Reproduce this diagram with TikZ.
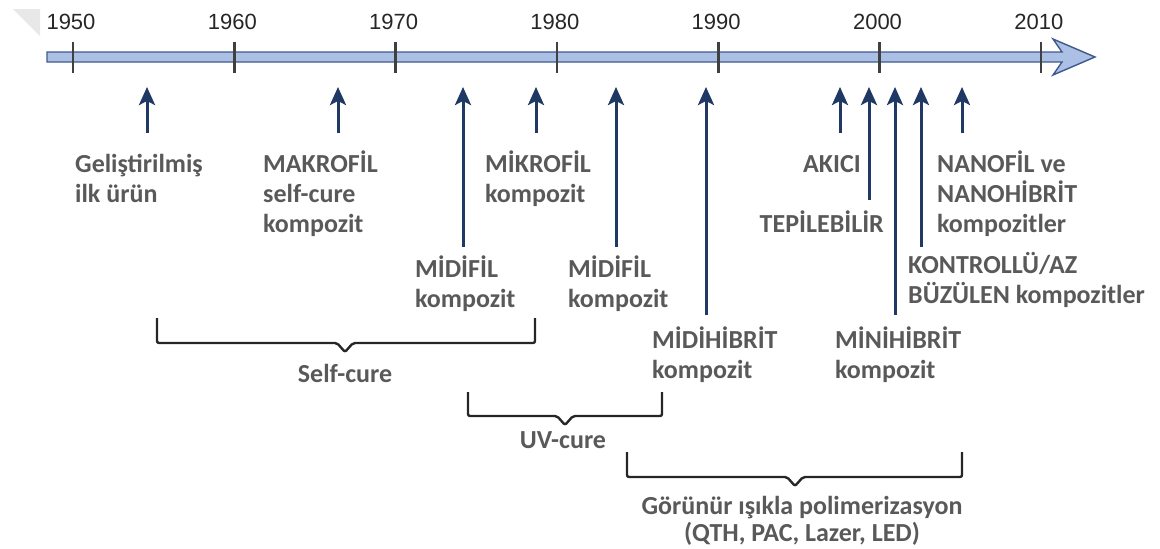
\documentclass[tikz,border=0pt]{standalone}
\usepackage{fontspec}
\setmainfont{Carlito}
\newfontfamily\yearfont{Liberation Sans}
\usetikzlibrary{arrows.meta}

\definecolor{navy}{RGB}{31,56,100}
\definecolor{labelgray}{RGB}{89,89,89}
\definecolor{barblue}{RGB}{172,192,230}
\definecolor{baredge}{RGB}{62,90,140}

\begin{document}
\begin{tikzpicture}[
	x=1pt, y=-1pt,
	yearlabel/.style={
		font=\yearfont\fontsize{22}{22}\selectfont,
		text=black!85,
		anchor=base,
		inner sep=0pt,
	},
	eventtext/.style={
		font=\bfseries\fontsize{26}{30}\selectfont,
		text=labelgray,
		align=left,
		anchor=base west,
		inner sep=0pt,
	},
	curetext/.style={
		font=\bfseries\fontsize{26}{27}\selectfont,
		text=labelgray,
		align=center,
		anchor=base,
		inner sep=0pt,
	},
	uparrow/.style={
		navy,
		line width=3pt,
		-{Stealth[length=18pt,width=16pt,inset=4pt]},
	},
	brace/.style={
		line width=2.4pt,
		black!85,
		rounded corners=2pt,
	},
]
\useasboundingbox (0,0) rectangle (1160,549);

% folded corner of the scan
\fill[gray!18] (13,9) -- (40,9) -- (40,36) -- cycle;

% time axis
\draw[baredge, fill=barblue, line width=1.4pt, line join=miter]
	(47,52) -- (1062,52) -- (1053,39) -- (1095,57) -- (1053,75) -- (1062,62) -- (47,62) -- cycle;
\foreach \yr [count=\i from 0] in {1950,1960,...,2010} {
	\draw[line width=2.6pt, black!75] (73+161.3*\i,42) -- (73+161.3*\i,73);
	\node[yearlabel] (y\yr) at (71+161.3*\i,29) {\yr};
}

% events (base = last line)
\foreach \nm/\xx/\tail in {gel/147/133, makro/338/133, midi/463/247, mikro/536/133,
		midib/616/247, midihib/706/315, akici/840/133, tepi/869/200,
		minihib/895/315, kontrol/921/247, nano/962/133} {
	\coordinate (\nm-tail) at (\xx,\tail);
	\coordinate (\nm-head) at (\xx,87);
	\draw[uparrow] (\nm-tail) -- (\nm-head);
}

\node[eventtext] (gel) at (75,202) {Geliştirilmiş\\ilk ürün};
\node[eventtext] (makro) at (263,232) {MAKROFİL\\self-cure\\kompozit};
\node[eventtext] (mikro) at (485,202) {MİKROFİL\\kompozit};
\node[eventtext] (midi) at (415,307) {MİDİFİL\\kompozit};
\node[eventtext] (midib) at (568,307) {MİDİFİL\\kompozit};
\node[eventtext] (midihib) at (652,378) {MİDİHİBRİT\\kompozit};
\node[eventtext] (akici) at (803,172) {AKICI};
\node[eventtext, anchor=base east] (tepi) at (884,232) {TEPİLEBİLİR};
\node[eventtext] (nano) at (937,232) {NANOFİL ve\\NANOHİBRİT\\kompozitler};
\node[eventtext] (kontrol) at (908,303) {KONTROLLÜ/AZ\\BÜZÜLEN kompozitler};
\node[eventtext] (minihib) at (835,378) {MİNİHİBRİT\\kompozit};

% curing periods
\draw[brace] (157,318) -- (157,343) -- (337,343) -- (345,352) -- (353,343) -- (535,343) -- (535,318);
\node[curetext] (self) at (345,382) {Self-cure};

\draw[brace] (468,392) -- (468,416) -- (557,416) -- (565,425) -- (573,416) -- (662,416) -- (662,392);
\node[curetext] (uv) at (563,448) {UV-cure};

\draw[brace] (627,452) -- (627,477) -- (787,477) -- (795,486) -- (803,477) -- (962,477) -- (962,452);
\node[curetext] (visible) at (802,541) {Görünür ışıkla polimerizasyon\\(QTH, PAC, Lazer, LED)};

\end{tikzpicture}
\end{document}
